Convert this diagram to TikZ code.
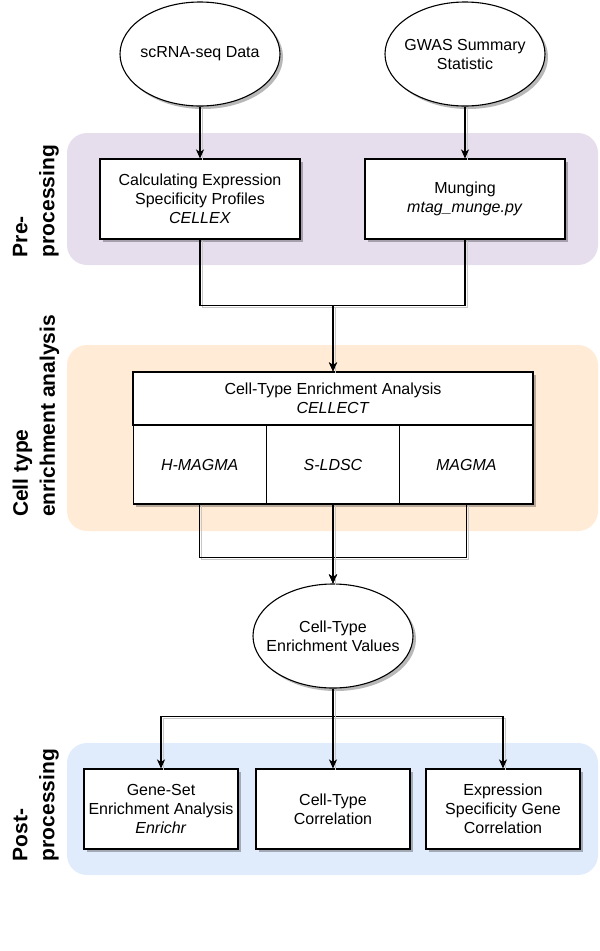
\documentclass[tikz,border=0pt]{standalone}
\usepackage{fontspec}
\setmainfont{Liberation Sans}
\usetikzlibrary{arrows.meta,shapes.geometric,shadows,positioning}

\definecolor{preFill}{HTML}{E6DEED}
\definecolor{ctFill}{HTML}{FFEBD6}
\definecolor{postFill}{HTML}{E0ECFC}

\tikzset{
  region/.style={rounded corners=20pt, draw=none},
  shade3/.style={drop shadow={shadow xshift=3pt, shadow yshift=-3pt, fill=black, opacity=0.28}},
  proc/.style={draw, fill=white, line width=1.1pt, minimum width=200pt, minimum height=80pt,
    inner sep=0pt, align=center, shade3},
  cell/.style={proc, minimum width=133.3pt, minimum height=79pt},
  data/.style={ellipse, draw, fill=white, line width=1.1pt, minimum width=160pt,
    minimum height=104pt, inner xsep=-30pt, inner ysep=-12pt, align=center, shade3},
  conn/.style={line width=1.1pt, -{Stealth[length=9pt,width=8pt,inset=2.5pt]},
    preaction={draw, -, black!22, transform canvas={shift={(1.8pt,-1.8pt)}}}},
  phase/.style={rotate=90, align=left, font=\fontsize{21}{27}\selectfont\bfseries}
}

\begin{document}
\begin{tikzpicture}[x=1pt, y=-1pt, font=\fontsize{16}{19}\selectfont]
\useasboundingbox (0,0) rectangle (600,951);

% phase backgrounds
\fill[region, preFill] (67,133) rectangle (598,265);
\fill[region, ctFill] (67,345) rectangle (598,531);
\fill[region, postFill] (67,743) rectangle (598,875);

\node[phase] (prelab) at (36,201) {Pre-\\processing};
\node[phase] (ctlab) at (36,416) {Cell type\\enrichment analysis};
\node[phase] (postlab) at (36,805) {Post-\\processing};

% inputs
\node[data] (scrna) at (200,54) {scRNA-seq Data};
\node[data] (gwas) at (465,54) {GWAS Summary\\Statistic};

% pre-processing
\node[proc] (cellex) at (200,199) {Calculating Expression\\Specificity Profiles\\\textit{CELLEX}};
\node[proc] (munge) at (465,199) {Munging\\\textit{mtag\_munge.py}};

% enrichment
\node[proc, minimum width=400pt, minimum height=53pt] (cellect) at (333,398.5)
  {Cell-Type Enrichment Analysis\\\textit{CELLECT}};
\node[cell] (hmagma) at (199.7,464.5) {\textit{H-MAGMA}};
\node[cell] (sldsc) at (333,464.5) {\textit{S-LDSC}};
\node[cell] (magma) at (466.3,464.5) {\textit{MAGMA}};

\node[data] (values) at (333,636) {Cell-Type\\Enrichment Values};

% post-processing
\node[proc, minimum width=154pt] (gsea) at (161,809) {Gene-Set\\Enrichment Analysis\\\textit{Enrichr}};
\node[proc, minimum width=154pt] (ctcorr) at (333,809) {Cell-Type\\Correlation};
\node[proc, minimum width=154pt] (esgc) at (503,809) {Expression\\Specificity Gene\\Correlation};

% connectors
\draw[conn] (scrna) -- (cellex);
\draw[conn] (gwas) -- (munge);
\draw[conn] (cellex.south) -- ++(0,66) -| (cellect.north);
\draw[conn] (munge.south) -- ++(0,66) -| (cellect.north);
\draw[conn] (hmagma.south) -- ++(0,53) -| (values.north);
\draw[conn] (magma.south) -- ++(0,53) -| (values.north);
\draw[conn] (sldsc.south) -- (values.north);
\draw[conn] (values.south) -- ++(0,28) -| (gsea.north);
\draw[conn] (values.south) -- ++(0,28) -| (esgc.north);
\draw[conn] (values.south) -- (ctcorr.north);
\end{tikzpicture}
\end{document}
